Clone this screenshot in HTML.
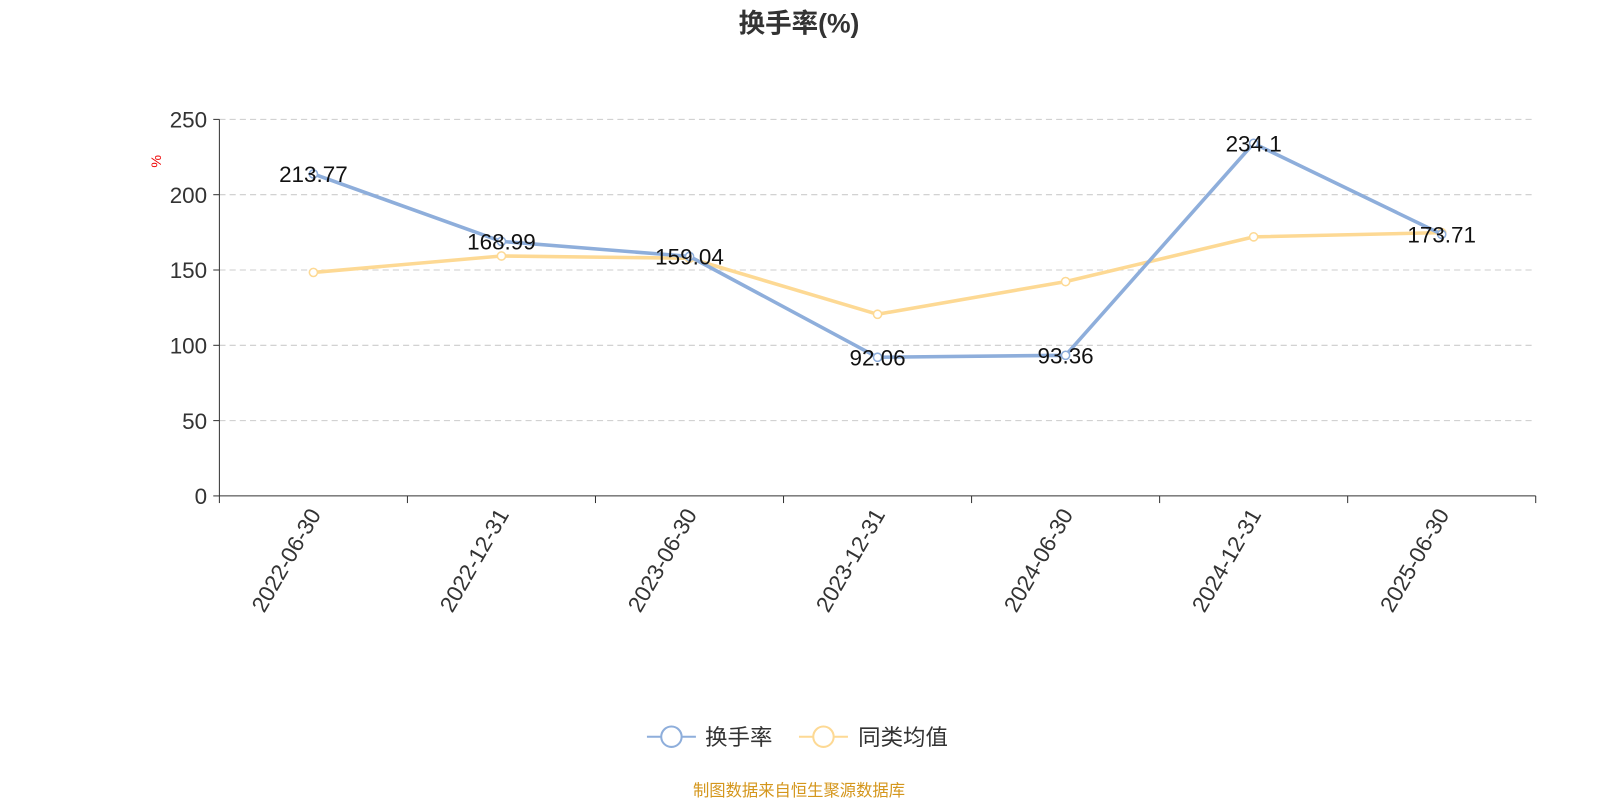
<!DOCTYPE html>
<html><head><meta charset="utf-8"><style>
body{margin:0;background:#fff;width:1600px;height:800px;overflow:hidden;font-family:"Liberation Sans","Noto Sans CJK SC",sans-serif}
</style></head><body>
<svg id="chart" width="1600" height="800" viewBox="0 0 1568 784" xmlns="http://www.w3.org/2000/svg" font-family="Liberation Sans, Noto Sans CJK SC, sans-serif">
<text x="783" y="32" text-anchor="middle" font-size="26" font-weight="bold" fill="#333">换手率(%)</text>
<text transform="translate(158,158) rotate(-90)" text-anchor="middle" font-size="14" fill="#e00">%</text>
<g id="grid"></g><g id="axes"></g><g id="series"></g>
<g>
<g><line x1="634" y1="722" x2="682" y2="722" stroke="#8eaedb" stroke-width="2"/><circle cx="658" cy="722" r="10" fill="#fff" stroke="#8eaedb" stroke-width="2"/><text x="691" y="730" font-size="22" fill="#333">换手率</text></g>
<g><line x1="783" y1="722" x2="831" y2="722" stroke="#fdd994" stroke-width="2"/><circle cx="807" cy="722" r="10" fill="#fff" stroke="#fdd994" stroke-width="2"/><text x="841" y="730" font-size="22" fill="#333">同类均值</text></g>
</g>
<text x="783" y="780" text-anchor="middle" font-size="16" fill="#d4961c">制图数据来自恒生聚源数据库</text>
</svg>
<script>
const categories=["2022-06-30","2022-12-31","2023-06-30","2023-12-31","2024-06-30","2024-12-31","2025-06-30"];
const turnover=[213.77,168.99,159.04,92.06,93.36,234.1,173.71];
const peerAvg=[148.4,159.3,157.8,120.6,142.3,172.0,174.8];
const yTicks=[0,50,100,150,200,250];
const NS="http://www.w3.org/2000/svg";
const X0=215,X1=1505,Y0=486,Y1=117,YMAX=250;
const bw=(X1-X0)/categories.length;
const x=i=>X0+(i+0.5)*bw;
const y=v=>Y0-(v/YMAX)*(Y0-Y1);
function mk(tag,attrs,parent,text){const e=document.createElementNS(NS,tag);for(const k in attrs)e.setAttribute(k,attrs[k]);if(text!==undefined)e.textContent=text;parent.appendChild(e);return e;}
const grid=document.getElementById('grid'),axes=document.getElementById('axes'),ser=document.getElementById('series');
yTicks.forEach(t=>{
  if(t>0){const g=mk('line',{x1:X0,x2:X1,y1:y(t),y2:y(t),stroke:'#ccc','stroke-dasharray':'6,4'},grid);
  
  }
  const tk=mk('line',{x1:X0-6,x2:X0,y1:y(t),y2:y(t),stroke:'#333'},axes);
  
  
  const l=mk('text',{x:X0-12,y:y(t)+8,'text-anchor':'end','font-size':22,fill:'#333'},axes,String(t));
  
  
});
const ya=mk('line',{x1:X0,x2:X0,y1:Y1,y2:Y0,stroke:'#333'},axes);


const xa=mk('line',{x1:X0,x2:X1,y1:Y0,y2:Y0,stroke:'#333'},axes);


for(let i=0;i<=categories.length;i++){const t=mk('line',{x1:X0+i*bw,x2:X0+i*bw,y1:Y0,y2:Y0+7,stroke:'#333'},axes);

}
categories.forEach((c,i)=>{const t=mk('text',{transform:`translate(${x(i)+8},${Y0+18}) rotate(-60)`,'text-anchor':'end','font-size':22,fill:'#333'},axes,c);

});
function line(data,color,name,labels){
  const p=mk('polyline',{points:data.map((v,i)=>x(i)+','+y(v)).join(' '),fill:'none',stroke:color,'stroke-width':3.5,'stroke-linejoin':'round'},ser);
  
  
  data.forEach((v,i)=>{const c=mk('circle',{cx:x(i),cy:y(v),r:4,fill:'#fff',stroke:color,'stroke-width':1.5},ser);
    
    
    if(labels){const t=mk('text',{x:x(i),y:y(v)+8,'text-anchor':'middle','font-size':22,fill:'#111'},ser,String(v));
    
    }
  });
}
line(peerAvg,'#fdd994','peer-average',false);
line(turnover,'#8eaedb','turnover',true);
</script>
</body></html>
